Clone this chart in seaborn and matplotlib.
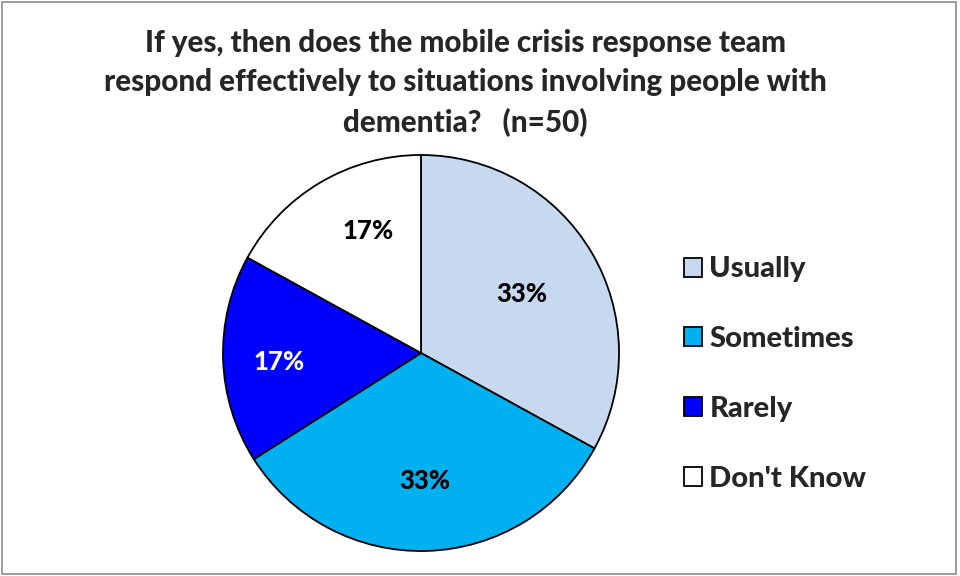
import matplotlib
matplotlib.use("Agg")
import numpy as np
import matplotlib.pyplot as plt
import seaborn as sns
from matplotlib.patches import Rectangle

# Survey responses (percent of respondents)
categories = ["Usually", "Sometimes", "Rarely", "Don't Know"]
percentages = [33, 33, 17, 17]
slice_colors = ["#C6D9F1", "#00B0F0", "#0000FF", "#FFFFFF"]
label_colors = ["black", "black", "white", "black"]
title_text = ("If yes, then does the mobile crisis response team\n"
              "respond effectively to situations involving people with\n"
              "dementia?   (n=50)")

# per-slice placement of the percentage labels (radial fraction, angle shift in degrees)
label_radius = [0.59, 0.645, 0.72, 0.67]
label_shift = [0.0, 0.0, 2.0, -7.0]

sns.set_theme(style="white")
plt.rcParams["font.family"] = ["Lato", "DejaVu Sans"]
plt.rcParams["font.weight"] = "bold"

fig = plt.figure(figsize=(9.6, 5.76), dpi=100)
fig.patch.set_facecolor("white")

# outer chart frame
fig.patches.append(Rectangle((0.002, 0.003), 0.994, 0.993, transform=fig.transFigure,
                             fill=False, edgecolor="#8C8C8C", linewidth=1.2))

ax = fig.add_axes([421 / 960 - 200 / 960, 1 - 353 / 576 - 200 / 576, 400 / 960, 400 / 576])
wedges, texts, autotexts = ax.pie(
    percentages,
    colors=slice_colors,
    startangle=90,
    counterclock=False,
    radius=1.0,
    autopct=lambda p: f"{p:.0f}%",
    pctdistance=0.65,
    wedgeprops=dict(edgecolor="black", linewidth=1.3),
    textprops=dict(fontsize=18.5, fontweight=900),
)
for w, t, c, r, s in zip(wedges, autotexts, label_colors, label_radius, label_shift):
    t.set_color(c)
    mid = np.deg2rad((w.theta1 + w.theta2) / 2 + s)
    t.set_position((r * np.cos(mid), r * np.sin(mid)))
ax.set_xlim(-1.01, 1.01)
ax.set_ylim(-1.01, 1.01)
ax.set_aspect("equal")
ax.axis("off")

fig.text(0.4844, 1 - 83 / 576, title_text, ha="center", va="center",
         fontsize=21.3, fontweight=900, linespacing=1.48)

leg = fig.legend(
    wedges, categories,
    loc="center left",
    bbox_to_anchor=(684 / 960, 1 - 374 / 576),
    frameon=False,
    fontsize=21,
    handlelength=0.62,
    handleheight=0.62,
    handletextpad=0.25,
    labelspacing=1.5,
    borderaxespad=0,
    borderpad=0,
)
for txt in leg.get_texts():
    txt.set_fontweight(900)

fig.savefig("out.png", dpi=100)
